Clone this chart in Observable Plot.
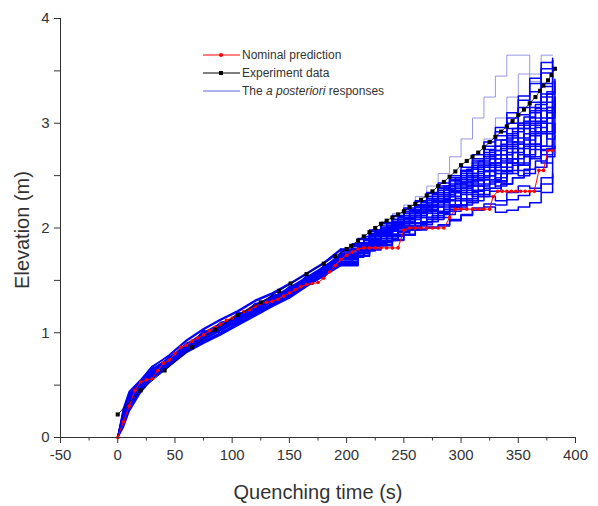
<!DOCTYPE html>
<html><head><meta charset="utf-8">
<script src="https://cdn.jsdelivr.net/npm/d3@7"></script>
<script src="https://cdn.jsdelivr.net/npm/@observablehq/plot@0.6"></script>
<style>
body{margin:0;background:#fff;}
#wrap{position:relative;width:598px;height:506px;font-family:"Liberation Sans",Arial,sans-serif;color:#333;}
.ttl{position:absolute;font-size:20px;white-space:nowrap;text-align:center;line-height:24px;}
#xt{left:168px;width:300px;top:480px;}
#yt{left:-128px;width:300px;top:218px;transform:rotate(-90deg);}
#legend{position:absolute;left:203px;top:46px;font-size:12px;}
.row{display:flex;align-items:center;height:18px;}
.row svg{width:39px;height:18px;flex:none;}
</style></head>
<body><div id="wrap"><div id="chart"></div>
<div class="ttl" id="xt">Quenching time (s)</div>
<div class="ttl" id="yt">Elevation (m)</div>
<div id="legend">
 <div class="row"><svg><line x1="0" x2="37" y1="9" y2="9" stroke="red" stroke-width="1"/><circle cx="18" cy="9" r="2" fill="red"/></svg><span>Nominal prediction</span></div>
 <div class="row"><svg><line x1="0" x2="37" y1="9" y2="9" stroke="black" stroke-width="1"/><rect x="16" y="7" width="4" height="4" fill="black"/></svg><span>Experiment data</span></div>
 <div class="row"><svg><line x1="0" x2="37" y1="9" y2="9" stroke="#6060e0" stroke-width="1"/></svg><span>The <i>a posteriori</i> responses</span></div>
</div></div>
<script>
// ---- data ----
const xTicks = [-50, 0, 50, 100, 150, 200, 250, 300, 350, 400];
const xMinor = [-25, 25, 75, 125, 175, 225, 275, 325, 375];
const yTicks = [0, 1, 2, 3, 4];
const yMinor = [0.5, 1.5, 2.5, 3.5];

const nominalTime = [0,5,10,15,20,25,30,35,40,45,50,55,60,65,70,75,80,85,90,95,100,105,110,115,120,125,130,135,140,145,150,155,160,165,170,175,180,185,190,195,200,205,210,215,220,225,230,235,240,245,250,255,260,265,270,275,280,285,290,295,300,305,310,315,320,325,328,332,336,340,344,348,352,356,360,364,368,372,376,380];
const nominalElev = [0,0.15,0.3,0.45,0.53,0.55,0.56,0.64,0.71,0.74,0.8,0.86,0.88,0.92,0.95,0.98,1.02,1.05,1.08,1.12,1.14,1.17,1.2,1.22,1.25,1.28,1.29,1.3,1.32,1.35,1.38,1.41,1.44,1.46,1.47,1.48,1.52,1.58,1.64,1.7,1.74,1.77,1.8,1.81,1.81,1.81,1.81,1.81,1.81,1.81,1.98,2.0,2.0,2.0,2.0,2.0,2.0,2.0,2.1,2.18,2.18,2.18,2.18,2.18,2.18,2.18,2.3,2.35,2.35,2.35,2.35,2.35,2.35,2.35,2.35,2.35,2.55,2.55,2.74,2.74];

const expTime = [0,20,41,65,85,105,125,141,151,165,180,190,200,204,210,215,220,225,230,235,240,245,250,255,260,265,270,275,280,285,290,295,300,305,310,315,320,325,330,335,340,345,350,355,360,365,369,372,376,379,382];
const expElev = [0.22,0.45,0.64,0.86,1.03,1.17,1.29,1.40,1.47,1.56,1.66,1.73,1.80,1.83,1.88,1.92,1.96,2.0,2.04,2.07,2.1,2.13,2.16,2.2,2.23,2.27,2.31,2.35,2.4,2.44,2.49,2.54,2.6,2.64,2.68,2.72,2.77,2.82,2.87,2.92,2.97,3.02,3.08,3.13,3.19,3.25,3.31,3.36,3.41,3.46,3.52];

// full-length posterior runs
const runTime = [0,5,10,20,30,45,60,75,90,105,120,135,150,165,180,195,210,220,230,240,250,260,270,280,290,300,310,320,330,340,350,360,370,380];
const run01 = [0,0.28,0.44,0.55,0.68,0.78,0.92,1.03,1.12,1.20,1.30,1.37,1.46,1.56,1.66,1.79,1.89,1.97,2.04,2.11,2.18,2.25,2.34,2.43,2.50,2.58,2.70,2.82,2.96,3.10,3.26,3.43,3.58,3.60];
const run02 = [0,0.12,0.27,0.44,0.57,0.69,0.82,0.91,0.99,1.08,1.17,1.26,1.34,1.45,1.55,1.65,1.74,1.80,1.84,1.89,1.94,1.99,2.01,2.03,2.08,2.13,2.19,2.23,2.22,2.27,2.31,2.35,2.42,2.52];
const run03 = [0,0.2,0.36,0.5,0.62,0.75,0.85,0.99,1.05,1.16,1.22,1.34,1.39,1.52,1.59,1.74,1.80,1.90,1.94,2.02,2.06,2.14,2.17,2.26,2.30,2.38,2.45,2.55,2.62,2.72,2.80,2.92,3.05,3.10];
const run04 = [0,0.24,0.40,0.53,0.66,0.72,0.90,0.95,1.10,1.12,1.28,1.29,1.44,1.48,1.64,1.70,1.86,1.86,2.0,2.0,2.14,2.12,2.28,2.25,2.42,2.38,2.58,2.50,2.78,2.62,3.0,2.75,3.25,2.9];
const run05 = [0,0.15,0.30,0.47,0.60,0.77,0.84,1.02,1.00,1.19,1.18,1.36,1.35,1.55,1.52,1.77,1.76,1.95,1.90,2.08,2.02,2.22,2.10,2.38,2.20,2.50,2.30,2.70,2.40,2.90,2.55,3.10,2.70,3.30];
const run06 = [0,0.22,0.38,0.52,0.64,0.74,0.88,0.97,1.08,1.14,1.25,1.32,1.41,1.50,1.61,1.72,1.83,1.92,1.98,2.06,2.12,2.20,2.28,2.36,2.45,2.54,2.62,2.72,2.84,2.95,3.08,3.20,3.35,3.45];
const run07 = [0,0.18,0.33,0.48,0.60,0.71,0.86,0.94,1.03,1.10,1.20,1.28,1.37,1.47,1.57,1.68,1.78,1.84,1.88,1.94,2.00,2.05,2.10,2.15,2.22,2.28,2.35,2.42,2.48,2.55,2.62,2.68,2.78,2.85];
const run08 = [0,0.26,0.42,0.54,0.67,0.79,0.93,1.04,1.13,1.21,1.31,1.38,1.47,1.57,1.67,1.80,1.90,1.98,2.05,2.12,2.19,2.26,2.33,2.40,2.48,2.55,2.64,2.75,2.88,3.0,3.15,3.30,3.48,3.55];
const run09 = [0,0.14,0.29,0.45,0.58,0.70,0.83,0.92,1.0,1.09,1.18,1.27,1.35,1.46,1.56,1.66,1.76,1.82,1.86,1.92,1.98,2.02,2.06,2.10,2.16,2.22,2.26,2.30,2.26,2.34,2.40,2.38,2.48,2.62];
const run10 = [0,0.2,0.35,0.5,0.63,0.73,0.87,0.98,1.06,1.17,1.24,1.33,1.42,1.51,1.60,1.73,1.82,1.88,1.96,2.04,2.10,2.18,2.24,2.32,2.38,2.46,2.52,2.60,2.70,2.82,2.95,3.05,3.20,3.35];
const run11 = [0,0.16,0.31,0.46,0.59,0.72,0.84,0.93,1.04,1.11,1.21,1.30,1.38,1.49,1.58,1.70,1.79,1.87,1.92,1.98,2.04,2.10,2.14,2.20,2.26,2.32,2.40,2.46,2.55,2.62,2.70,2.80,2.92,3.02];
const run12 = [0,0.25,0.41,0.52,0.65,0.76,0.89,1.0,1.09,1.16,1.27,1.34,1.43,1.53,1.63,1.75,1.85,1.94,2.02,2.08,2.16,2.22,2.30,2.38,2.46,2.52,2.60,2.68,2.78,2.88,3.0,3.15,3.38,3.60];
const run13 = [0,0.1,0.25,0.43,0.56,0.68,0.81,0.90,0.98,1.07,1.16,1.25,1.33,1.44,1.54,1.64,1.73,1.79,1.83,1.88,1.93,1.98,2.0,2.02,2.07,2.12,2.17,2.2,2.15,2.17,2.2,2.24,2.34,2.5];
const run14 = [0,0.18,0.34,0.49,0.61,0.74,0.87,0.96,1.07,1.13,1.26,1.31,1.43,1.50,1.62,1.71,1.84,1.90,1.97,2.06,2.10,2.20,2.26,2.34,2.40,2.48,2.56,2.66,2.74,2.86,2.98,3.12,3.28,3.40];
const run15 = [0,0.22,0.37,0.51,0.63,0.76,0.86,1.0,1.06,1.18,1.23,1.35,1.40,1.53,1.58,1.75,1.81,1.93,1.95,2.05,2.08,2.16,2.20,2.30,2.34,2.42,2.48,2.58,2.66,2.76,2.86,2.98,3.12,3.22];
const run16 = [0,0.13,0.28,0.45,0.58,0.70,0.83,0.93,1.02,1.10,1.19,1.28,1.36,1.47,1.56,1.67,1.77,1.83,1.87,1.93,1.99,2.04,2.08,2.14,2.20,2.26,2.32,2.38,2.45,2.52,2.60,2.66,2.74,2.80];
const run17 = [0,0.24,0.39,0.53,0.65,0.75,0.89,0.99,1.09,1.15,1.26,1.33,1.42,1.52,1.62,1.74,1.84,1.93,2.00,2.08,2.14,2.22,2.30,2.38,2.46,2.55,2.66,2.78,2.92,3.05,3.22,3.38,3.52,3.62];
const run18 = [0,0.17,0.32,0.47,0.60,0.72,0.85,0.95,1.05,1.12,1.22,1.30,1.39,1.48,1.59,1.70,1.80,1.86,1.93,2.0,2.06,2.12,2.18,2.24,2.30,2.36,2.42,2.50,2.58,2.66,2.76,2.88,3.0,3.15];
const run19 = [0,0.21,0.36,0.5,0.62,0.73,0.86,0.97,1.06,1.14,1.24,1.32,1.41,1.50,1.60,1.71,1.81,1.89,1.95,2.02,2.08,2.15,2.21,2.28,2.35,2.40,2.50,2.62,2.52,2.78,2.60,3.0,2.75,3.2];
const run20 = [0,0.19,0.34,0.49,0.61,0.73,0.86,0.96,1.05,1.13,1.23,1.31,1.40,1.50,1.60,1.72,1.82,1.90,1.96,2.03,2.09,2.16,2.22,2.30,2.36,2.44,2.36,2.54,2.44,2.66,2.50,2.80,2.62,3.0];
const outlierA = [0,0.28,0.45,0.56,0.69,0.79,0.93,1.04,1.14,1.21,1.31,1.38,1.47,1.57,1.67,1.80,1.90,1.98,2.06,2.14,2.22,2.30,2.40,2.52,2.68,2.85,3.05,3.25,3.45,3.65,3.65,3.40,3.65,3.65];
const outlierB = [0,0.22,0.38,0.52,0.64,0.74,0.88,0.97,1.08,1.14,1.25,1.32,1.41,1.50,1.61,1.72,1.83,1.90,1.97,2.04,2.12,2.2,2.28,2.36,2.44,2.5,2.65,2.85,3.05,3.25,3.47,3.47,2.9,3.5];

// late-stage posterior runs (from 195 s on)
const lateTime = [195,205,215,225,235,245,255,265,275,285,295,305,315,325,335,345,355,365,375,382];
const late01 = [1.78,1.85,1.92,1.98,2.04,2.10,2.17,2.24,2.32,2.40,2.48,2.56,2.64,2.74,2.84,2.95,3.06,3.18,3.30,3.40];
const late02 = [1.70,1.76,1.82,1.88,1.94,2.00,2.05,2.10,2.16,2.22,2.28,2.34,2.40,2.46,2.52,2.60,2.68,2.78,2.90,3.00];
const late03 = [1.74,1.82,1.86,1.95,1.98,2.08,2.10,2.22,2.22,2.36,2.34,2.50,2.46,2.66,2.58,2.82,2.70,3.00,2.85,3.15];
const late04 = [1.66,1.72,1.78,1.83,1.88,1.93,1.98,2.03,2.08,2.13,2.18,2.24,2.30,2.35,2.42,2.48,2.56,2.64,2.76,2.88];
const late05 = [1.76,1.84,1.90,1.96,2.02,2.08,2.14,2.20,2.28,2.36,2.44,2.52,2.60,2.70,2.80,2.92,3.02,3.14,3.28,3.42];
const late06 = [1.68,1.74,1.80,1.86,1.92,1.97,2.02,2.06,2.12,2.18,2.22,2.28,2.32,2.38,2.42,2.48,2.52,2.58,2.68,2.78];
const late07 = [1.72,1.80,1.88,1.93,2.00,2.04,2.12,2.16,2.26,2.30,2.42,2.44,2.58,2.60,2.76,2.76,2.95,2.92,3.15,3.25];
const late08 = [1.75,1.83,1.88,1.94,1.99,2.06,2.12,2.19,2.25,2.32,2.38,2.46,2.54,2.62,2.70,2.80,2.90,3.02,3.15,3.30];
const late09 = [1.67,1.73,1.79,1.85,1.90,1.96,2.00,2.05,2.10,2.16,2.20,2.26,2.36,2.44,2.54,2.66,2.78,2.90,3.05,3.20];
const late10 = [1.73,1.79,1.85,1.90,1.97,2.02,2.08,2.14,2.20,2.27,2.34,2.40,2.48,2.55,2.64,2.72,2.84,2.96,3.10,3.25];

// ---- build tables ----
const nominal = nominalTime.map((t, i) => ({t, e: nominalElev[i]}));
const experiment = expTime.map((t, i) => ({t, e: expElev[i]}));
const mainRuns = [run01, run02, run03, run04, run05, run06, run07, run08, run09, run10, run11, run12, run13, run14, run15, run16, run17, run18, run19, run20];
const lateRuns = [late01, late02, late03, late04, late05, late06, late07, late08, late09, late10];
const toLong = (runs, times, base) => runs.flatMap((r, k) => times.map((t, i) => ({run: base + k, t, e: r[i]})).filter(d => d.e !== undefined));
const posterior = toLong(mainRuns, runTime, 0);
const posteriorLate = posterior.filter(d => d.t >= 195).concat(toLong(lateRuns, lateTime, 100));
const posteriorEarly = posterior.filter(d => d.t <= 195);
const outliers = toLong([outlierA, outlierB], runTime, 200).filter(d => d.t >= 195);

const chart = Plot.plot({
  width: 598, height: 506,
  marginLeft: 60, marginRight: 23, marginTop: 18, marginBottom: 69,
  style: {fontFamily: '"Liberation Sans", Arial, sans-serif', color: "#333", background: "#fff"},
  x: {domain: [-50, 400]},
  y: {domain: [0, 4]},
  marks: [
    Plot.axisX({ticks: xTicks, tickSize: 6, tickPadding: 6, fontSize: 15, label: null, tickFormat: d => String(d)}),
    Plot.axisX({ticks: xMinor, tickSize: 3.5, text: null, label: null}),
    Plot.axisY({ticks: yTicks, tickSize: 6, tickPadding: 5, fontSize: 15, label: null, tickFormat: d => String(d)}),
    Plot.axisY({ticks: yMinor, tickSize: 6, text: null, label: null}),
    Plot.line(outliers, {x: "t", y: "e", z: "run", stroke: "#6a6ad8", strokeWidth: 0.7, curve: "step-after"}),
    Plot.line(posteriorEarly, {x: "t", y: "e", z: "run", stroke: "#0000ff", strokeWidth: 1.5}),
    Plot.line(posteriorLate, {x: "t", y: "e", z: "run", stroke: "#0000ff", strokeWidth: 1.5, curve: "step-after"}),
    Plot.line(nominal, {x: "t", y: "e", stroke: "red", strokeWidth: 1}),
    Plot.dot(nominal, {x: "t", y: "e", r: 1.8, fill: "red", stroke: null}),
    Plot.line(experiment, {x: "t", y: "e", stroke: "black", strokeWidth: 0.8}),
    Plot.dot(experiment, {x: "t", y: "e", symbol: "square", r: 2.3, fill: "black", stroke: null}),
    Plot.ruleY([0], {stroke: "#333", strokeWidth: 1}),
    Plot.ruleX([-50], {stroke: "#333", strokeWidth: 1})
  ]
});
document.getElementById("chart").appendChild(chart);
</script>
</body></html>
